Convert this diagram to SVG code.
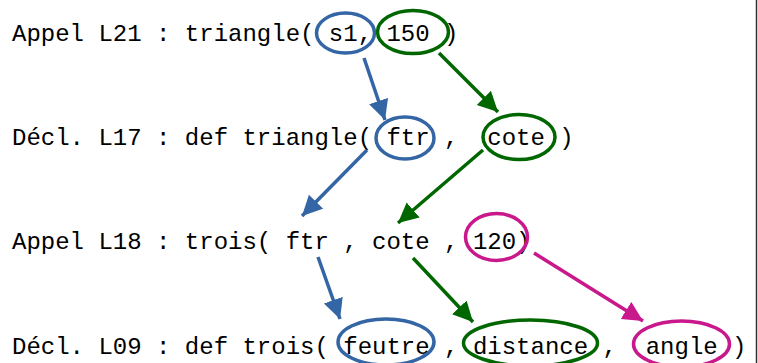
<svg xmlns="http://www.w3.org/2000/svg" width="758" height="363" viewBox="0 0 758 363">
<style>
text{font-family:"Liberation Mono","DejaVu Sans Mono",monospace;font-size:24px;fill:#000;white-space:pre}
.b{fill:none;stroke:#3465a4;stroke-width:3.5}
.g{fill:none;stroke:#006600;stroke-width:3.5}
.m{fill:none;stroke:#c9178c;stroke-width:3.5}
</style>
<defs>
<marker id="ab" markerUnits="userSpaceOnUse" markerWidth="22" markerHeight="22" refX="20" refY="10" orient="auto"><path d="M0,0 L20,10 L0,20 Z" fill="#3465a4"/></marker>
<marker id="ag" markerUnits="userSpaceOnUse" markerWidth="22" markerHeight="22" refX="20" refY="10" orient="auto"><path d="M0,0 L20,10 L0,20 Z" fill="#006600"/></marker>
<marker id="am" markerUnits="userSpaceOnUse" markerWidth="22" markerHeight="22" refX="20" refY="10" orient="auto"><path d="M0,0 L20,10 L0,20 Z" fill="#c9178c"/></marker>
</defs>
<rect width="758" height="363" fill="#fff"/>
<line x1="756.5" y1="0" x2="756.5" y2="363" stroke="#333" stroke-width="1.5"/>
<g id="line1"><text x="12" y="41">Appel L21 : triangle( s1, 150 )</text></g>
<g id="line2"><text x="12" y="145">Décl. L17 : def triangle( ftr ,  cote )</text></g>
<g id="line3"><text x="12" y="249">Appel L18 : trois( ftr , cote , 120)</text></g>
<g id="line4"><text x="12" y="354">Décl. L09 : def trois( feutre , distance ,  angle )</text></g>
<g id="n-s1"><ellipse class="b" cx="345.5" cy="33" rx="29" ry="20"/></g>
<g id="n-150"><ellipse class="g" cx="413" cy="32" rx="35.5" ry="21.5"/></g>
<g id="n-ftr"><ellipse class="b" cx="405" cy="138" rx="29" ry="21"/></g>
<g id="n-cote"><ellipse class="g" cx="519" cy="137" rx="36" ry="22.5"/></g>
<g id="n-120"><ellipse class="m" cx="496.5" cy="237" rx="31" ry="23.5"/></g>
<g id="n-feutre"><ellipse class="b" cx="386" cy="342" rx="48" ry="23"/></g>
<g id="n-distance"><ellipse class="g" cx="530.5" cy="343" rx="67" ry="23"/></g>
<g id="n-angle"><ellipse class="m" cx="681.5" cy="344" rx="48" ry="23"/></g>
<g id="connectors">
<line class="b" x1="364" y1="58" x2="385" y2="120" marker-end="url(#ab)"/>
<line class="g" x1="439" y1="53" x2="498" y2="112" marker-end="url(#ag)"/>
<line class="b" x1="367" y1="150" x2="302" y2="216" marker-end="url(#ab)"/>
<line class="g" x1="483" y1="150" x2="398" y2="223" marker-end="url(#ag)"/>
<line class="b" x1="318" y1="257" x2="340" y2="319" marker-end="url(#ab)"/>
<line class="g" x1="413" y1="258" x2="473" y2="322" marker-end="url(#ag)"/>
<line class="m" x1="534" y1="253" x2="643" y2="321" marker-end="url(#am)"/>
</g>
</svg>
